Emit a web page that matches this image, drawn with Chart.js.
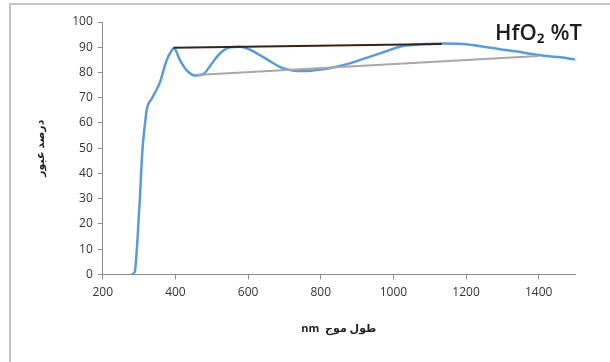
<!DOCTYPE html>
<html>
<head>
<meta charset="utf-8">
<script src="https://cdn.jsdelivr.net/npm/chart.js@4"></script>
<style>
  html, body { margin: 0; padding: 0; background: #fff; }
  #wrap { position: absolute; left: 0; top: 0; width: 610px; height: 362px; }
  #frame { position: absolute; left: 9px; top: 3px; right: 0; bottom: 0;
           border-left: 2px solid #c4c4c4; border-top: 2px solid #c4c4c4; }
</style>
</head>
<body>
<div id="wrap">
  <div id="frame"></div>
  <canvas id="myChart" width="610" height="362"></canvas>
</div>
<script>
// transmission spectrum
var wavelength = [279, 288, 296, 302, 309, 316, 322, 334, 357, 375, 390, 396,
                  412, 430, 453, 476, 495, 513, 530, 550, 575, 596, 625, 660,
                  690, 723, 760, 800, 840, 880, 930, 980, 1018, 1060, 1100, 1140,
                  1183, 1240, 1293, 1340, 1385, 1420, 1460, 1500];
var transmittance = [0, 1, 15, 30, 49, 59.5, 66, 69.4, 76, 84.5, 88.8, 89.6,
                     85, 81, 78.8, 79.3, 82.5, 86, 88.5, 90, 90.2, 89.6, 87.5, 84.5,
                     82, 80.8, 80.6, 81.2, 82.2, 83.6, 86, 88.4, 90.2, 91, 91.3, 91.5,
                     91.4, 90.4, 89.2, 88.3, 87.2, 86.5, 86, 85.2];

// envelope lines
var upperX = [394, 1133];
var upperY = [89.8, 91.3];
var lowerX = [458, 1400];
var lowerY = [79, 86.5];

var xTicks = [200, 400, 600, 800, 1000, 1200, 1400];

function pairs(xs, ys) {
    return xs.map(function (x, i) { return { x: x, y: ys[i] }; });
}

var titlePlugin = {
    id: 'cornerTitle',
    afterDraw: function (chart) {
        var c = chart.ctx;
        c.save();
        c.fillStyle = '#1e1e1e';
        c.textBaseline = 'alphabetic';
        c.textAlign = 'left';
        c.font = '600 22px "Open Sans"';
        c.fillText('HfO₂ %T', 495, 40);
        c.restore();
    }
};

var ctx = document.getElementById("myChart");
Chart.defaults.font.family = '"Open Sans", "DejaVu Sans", sans-serif';
Chart.defaults.color = '#333';
var myChart = new Chart(ctx, {
    type: 'line',
    data: {
        datasets: [{
            data: pairs(wavelength, transmittance),
            borderColor: '#5b9bd5',
            borderWidth: 2.5,
            pointRadius: 0,
            cubicInterpolationMode: 'monotone',
            order: 3
        }, {
            data: pairs(upperX, upperY),
            borderColor: '#3b2116',
            borderWidth: 2,
            pointRadius: 0,
            order: 1
        }, {
            data: pairs(lowerX, lowerY),
            borderColor: '#a8a8a8',
            borderWidth: 2,
            pointRadius: 0,
            order: 2
        }]
    },
    options: {
        responsive: false,
        animation: false,
        layout: { padding: { left: 30, right: 35, top: 22, bottom: 23 } },
        plugins: {
            legend: { display: false },
            tooltip: { enabled: false }
        },
        scales: {
            x: {
                type: 'linear',
                min: 200,
                max: 1500,
                afterBuildTicks: function (axis) {
                    axis.ticks = xTicks.map(function (v) { return { value: v }; });
                },
                grid: { drawOnChartArea: false, tickLength: 5, color: '#8c8c8c' },
                border: { color: '#8c8c8c', width: 1 },
                ticks: {
                    font: { size: 12 }, padding: 6, maxRotation: 0,
                    callback: function (v) { return String(v); }
                },
                title: {
                    display: true,
                    text: 'nm  طول موج',
                    font: { size: 11, weight: 'bold' },
                    color: '#222',
                    padding: { top: 16 }
                }
            },
            y: {
                min: 0,
                max: 100,
                ticks: { stepSize: 10, font: { size: 12 }, padding: 5 },
                grid: { drawOnChartArea: false, tickLength: 5, color: '#8c8c8c' },
                border: { color: '#8c8c8c', width: 1 },
                title: {
                    display: true,
                    text: 'درصد عبور',
                    font: { size: 11, weight: 'bold' },
                    color: '#222',
                    padding: { bottom: 20 }
                }
            }
        }
    },
    plugins: [titlePlugin]
});
</script>
</body>
</html>
